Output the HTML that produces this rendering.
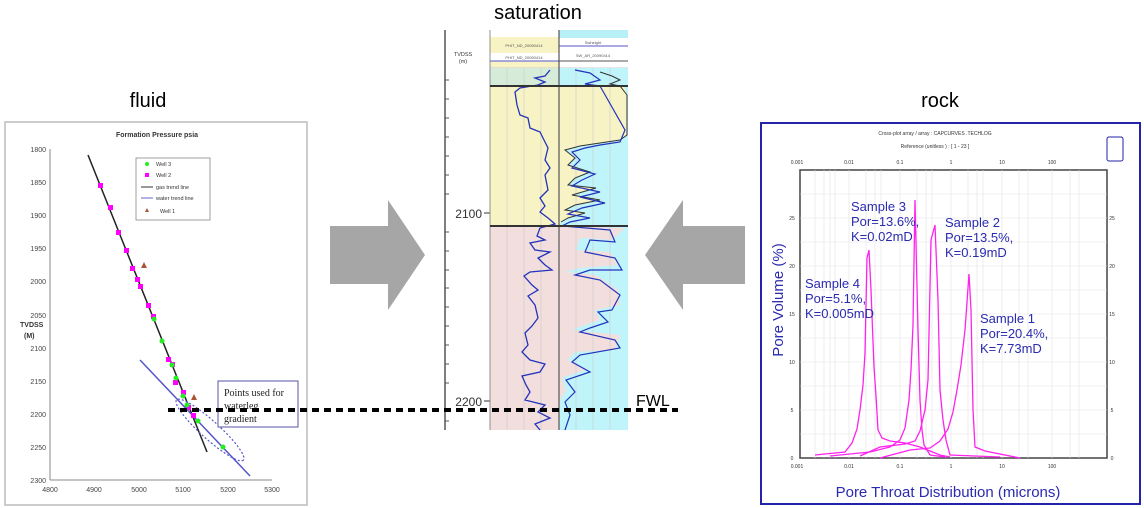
<!DOCTYPE html>
<html><head><meta charset="utf-8"><style>
html,body{margin:0;padding:0;background:#fff;}
svg{display:block;font-family:"Liberation Sans",sans-serif;}
</style></head><body>
<svg width="1144" height="508" viewBox="0 0 1144 508" xmlns="http://www.w3.org/2000/svg">
<!-- headings -->
<text x="148" y="107" font-size="20" text-anchor="middle">fluid</text>
<text x="538" y="19" font-size="20" text-anchor="middle">saturation</text>
<text x="940" y="107" font-size="20" text-anchor="middle">rock</text>

<!-- LEFT PANEL -->
<rect x="5" y="122" width="302" height="383" fill="#fff" stroke="#bbb" stroke-width="1.5"/>
<text x="157" y="137" font-size="7" font-weight="bold" text-anchor="middle" fill="#333">Formation Pressure psia</text>
<g stroke="#888" stroke-width="1" fill="none">
<line x1="50" y1="149" x2="50" y2="480"/><line x1="50" y1="480" x2="272" y2="480"/>
</g>
<g font-size="7" fill="#444" text-anchor="end">
<text x="46" y="152">1800</text><text x="46" y="185">1850</text><text x="46" y="218">1900</text><text x="46" y="251">1950</text><text x="46" y="284">2000</text><text x="46" y="318">2050</text><text x="46" y="351">2100</text><text x="46" y="384">2150</text><text x="46" y="417">2200</text><text x="46" y="450">2250</text><text x="46" y="483">2300</text>
</g>
<g font-size="7" fill="#444" text-anchor="middle">
<text x="50" y="492">4800</text><text x="94" y="492">4900</text><text x="139" y="492">5000</text><text x="183" y="492">5100</text><text x="228" y="492">5200</text><text x="272" y="492">5300</text>
</g>
<text x="20" y="327" font-size="7" font-weight="bold" fill="#333">TVDSS</text>
<text x="24" y="338" font-size="7" font-weight="bold" fill="#333">(M)</text>
<rect x="136" y="158" width="74" height="62" fill="#fff" stroke="#888" stroke-width="0.8"/>
<g font-size="5.5" fill="#333">
<circle cx="147" cy="164" r="2" fill="#2e2"/><text x="156" y="166">Well 3</text>
<rect x="145" y="173" width="4" height="4" fill="#f0f"/><text x="156" y="177">Well 2</text>
<line x1="141" y1="187" x2="153" y2="187" stroke="#333"/><text x="156" y="189">gas trend line</text>
<line x1="141" y1="198" x2="153" y2="198" stroke="#66c"/><text x="156" y="200">water trend line</text>
<path d="M145 212 L147 208 L149 212Z" fill="#a53"/><text x="160" y="213">Well 1</text>
</g>
<line x1="88" y1="155" x2="207" y2="452" stroke="#222" stroke-width="1.5"/>
<line x1="140" y1="360" x2="250" y2="476" stroke="#55c" stroke-width="1.5"/>
<ellipse cx="210" cy="430" rx="45" ry="9" transform="rotate(42 210 430)" fill="none" stroke="#55c" stroke-width="1.2" stroke-dasharray="2,2"/>
<g fill="#f0f">
<rect x="98" y="183" width="5" height="5"/><rect x="108" y="205" width="5" height="5"/><rect x="116" y="230" width="5" height="5"/><rect x="124" y="248" width="5" height="5"/><rect x="130" y="266" width="5" height="5"/><rect x="135" y="277" width="5" height="5"/><rect x="138" y="284" width="5" height="5"/><rect x="146" y="303" width="5" height="5"/><rect x="151" y="314" width="5" height="5"/><rect x="166" y="357" width="5" height="5"/><rect x="170" y="362" width="5" height="5"/><rect x="173" y="380" width="5" height="5"/><rect x="181" y="390" width="5" height="5"/><rect x="186" y="405" width="5" height="5"/><rect x="191" y="413" width="5" height="5"/>
</g>
<g fill="#2e2">
<circle cx="154" cy="319" r="2.5"/><circle cx="162" cy="341" r="2.5"/><circle cx="172" cy="365" r="2.5"/><circle cx="176" cy="378" r="2.5"/><circle cx="183" cy="396" r="2.5"/><circle cx="187" cy="405" r="2.5"/><circle cx="198" cy="421" r="2.5"/><circle cx="223" cy="447" r="2.5"/>
</g>
<g fill="#a53"><path d="M141 268 L144 262 L147 268Z"/><path d="M191 400 L194 394 L197 400Z"/></g>
<rect x="218" y="381" width="80" height="46" fill="#fff" stroke="#55a" stroke-width="1"/>
<g font-family="Liberation Serif,serif" font-size="10" fill="#222">
<text x="224" y="396">Points used for</text><text x="224" y="409">waterleg</text><text x="224" y="422">gradient</text>
</g>

<!-- ARROWS -->
<path d="M330 226 H388 V200 L425 255 L388 310 V284 H330Z" fill="#a6a6a6"/>
<path d="M745 226 H683 V200 L645 255 L683 310 V284 H745Z" fill="#a6a6a6"/>

<!-- MIDDLE LOG -->
<line x1="445" y1="30" x2="445" y2="430" stroke="#555" stroke-width="1.5"/>
<g stroke="#555" stroke-width="1">
<line x1="445" y1="80" x2="449" y2="80"/><line x1="445" y1="99" x2="449" y2="99"/><line x1="445" y1="118" x2="449" y2="118"/><line x1="445" y1="137" x2="449" y2="137"/><line x1="445" y1="156" x2="449" y2="156"/><line x1="445" y1="175" x2="449" y2="175"/><line x1="445" y1="194" x2="449" y2="194"/><line x1="445" y1="232" x2="449" y2="232"/><line x1="445" y1="251" x2="449" y2="251"/><line x1="445" y1="270" x2="449" y2="270"/><line x1="445" y1="288" x2="449" y2="288"/><line x1="445" y1="307" x2="449" y2="307"/><line x1="445" y1="326" x2="449" y2="326"/><line x1="445" y1="345" x2="449" y2="345"/><line x1="445" y1="364" x2="449" y2="364"/><line x1="445" y1="383" x2="449" y2="383"/><line x1="445" y1="421" x2="449" y2="421"/>
</g>
<text x="463" y="56" font-size="5.5" fill="#333" text-anchor="middle">TVDSS</text>
<text x="463" y="63" font-size="5.5" fill="#333" text-anchor="middle">(m)</text>
<text x="482" y="218" font-size="12" text-anchor="end" fill="#333">2100</text>
<line x1="484" y1="213" x2="490" y2="213" stroke="#333"/>
<text x="482" y="406" font-size="12" text-anchor="end" fill="#333">2200</text>
<line x1="484" y1="401" x2="490" y2="401" stroke="#333"/>
<!-- headers -->
<rect x="490" y="37" width="69" height="31" fill="#f8f3c4"/>
<rect x="490" y="53" width="69" height="8" fill="#fff"/>
<rect x="559" y="30" width="69" height="8" fill="#b8f0f8"/>
<g font-size="4" fill="#555" text-anchor="middle"><text x="524" y="47">PHIT_ND_20090414</text><text x="524" y="59">PHIT_ND_20090414</text><text x="593" y="44">Swheight</text><text x="593" y="57">SW_AR_20090414</text></g>
<line x1="490" y1="61" x2="559" y2="61" stroke="#55c"/><line x1="559" y1="46" x2="628" y2="46" stroke="#55c"/><line x1="559" y1="61" x2="628" y2="61" stroke="#555"/>
<line x1="490" y1="68" x2="628" y2="68" stroke="#ccc"/>
<!-- track 1 -->
<rect x="490" y="68" width="69" height="18" fill="#d6ecd8"/>
<rect x="490" y="86" width="69" height="140" fill="#f8f3c4"/>
<rect x="490" y="226" width="69" height="204" fill="#f3dede"/>
<!-- track 2 -->
<rect x="559" y="68" width="69" height="362" fill="#bff4fa"/>
<polygon points="559,86 624,86 627,95 627,135 620,140 600,143 580,146 565,150 575,158 568,165 590,172 575,178 568,185 596,188 572,195 600,200 575,205 565,210 585,213 568,218 561,222 559,226" fill="#f8f3c4"/>
<polygon points="559,226 625,228 612,240 580,238 576,250 610,252 618,265 580,268 565,272 596,275 618,290 620,305 595,310 600,320 585,325 572,330 620,335 615,350 575,352 568,360 585,370 562,378 566,390 560,400 559,430" fill="#f3dede"/>
<g stroke="#ccc" stroke-width="0.6">
<line x1="507" y1="68" x2="507" y2="430"/><line x1="524" y1="68" x2="524" y2="430"/><line x1="541" y1="68" x2="541" y2="430"/>
<line x1="576" y1="68" x2="576" y2="430"/><line x1="593" y1="68" x2="593" y2="430"/><line x1="610" y1="68" x2="610" y2="430"/>
</g>
<polyline fill="none" stroke="#2233bb" stroke-width="1.3" points="550,70 545,76 535,78 545,82 538,85 520,88 515,92 517,105 520,115 528,118 530,128 540,132 544,140 548,148 545,160 550,168 545,175 548,190 540,198 545,206 540,212 548,218 555,224 540,228 537,236 545,240 530,243 535,250 550,252 538,258 545,265 552,270 530,272 524,276 532,285 538,290 528,296 535,305 538,318 532,326 525,333 528,345 522,352 530,360 545,364 540,372 522,376 526,385 530,392 525,400 545,405 538,412 550,418 535,424 540,430"/>
<polyline fill="none" stroke="#333" stroke-width="1" points="600,72 612,76 620,80 610,84 620,86 627,95 627,135 620,140 600,143 580,146 565,150 575,158 568,165 590,172 575,178 568,185 596,188 572,195 600,200 575,205 565,210 585,213 568,218 561,222"/>
<polyline fill="none" stroke="#2233bb" stroke-width="1.2" points="575,70 590,73 600,80 585,84 600,86 625,130 620,142 600,145 585,148 572,152 580,160 572,168 595,174 582,180 572,186 600,192 580,197 605,203 582,208 568,214 590,218 570,222 562,226 610,230 615,242 590,240 585,252 615,258 622,270 590,270 575,275 600,280 620,295 612,310 598,312 608,322 590,328 580,332 615,340 620,348 580,355 572,362 590,372 566,380 575,392 565,402 570,415 565,430"/>
<line x1="559" y1="30" x2="559" y2="430" stroke="#555" stroke-width="1.2"/>
<line x1="490" y1="30" x2="490" y2="430" stroke="#777" stroke-width="0.8"/>
<line x1="490" y1="86" x2="628" y2="86" stroke="#333" stroke-width="2"/>
<line x1="490" y1="226" x2="628" y2="226" stroke="#333" stroke-width="2"/>

<!-- FWL -->
<line x1="168" y1="410" x2="678" y2="410" stroke="#000" stroke-width="4" stroke-dasharray="7,5"/>
<text x="636" y="406" font-size="16" fill="#000">FWL</text>

<!-- RIGHT PANEL -->
<rect x="761" y="123" width="379" height="381" fill="#fff" stroke="#2222aa" stroke-width="2"/>
<g font-size="5" fill="#333" text-anchor="middle"><text x="935" y="135">Cross-plot array   /  array : CAPCURVES .TECHLOG</text><text x="935" y="148">Reference   (unitless  ) : [ 1 - 23 ]</text></g>
<rect x="1107" y="137" width="16" height="24" fill="#fff" stroke="#2222aa" rx="2"/>
<rect x="800" y="170" width="307" height="288" fill="#fff" stroke="#444" stroke-width="1.5"/>
<g stroke="#e3e3e3" stroke-width="0.6">
<line x1="815" y1="170" x2="815" y2="458"/><line x1="824" y1="170" x2="824" y2="458"/><line x1="830" y1="170" x2="830" y2="458"/><line x1="835" y1="170" x2="835" y2="458"/><line x1="849" y1="170" x2="849" y2="458"/><line x1="866" y1="170" x2="866" y2="458"/><line x1="875" y1="170" x2="875" y2="458"/><line x1="881" y1="170" x2="881" y2="458"/><line x1="900" y1="170" x2="900" y2="458"/><line x1="917" y1="170" x2="917" y2="458"/><line x1="926" y1="170" x2="926" y2="458"/><line x1="932" y1="170" x2="932" y2="458"/><line x1="951" y1="170" x2="951" y2="458"/><line x1="968" y1="170" x2="968" y2="458"/><line x1="977" y1="170" x2="977" y2="458"/><line x1="983" y1="170" x2="983" y2="458"/><line x1="1002" y1="170" x2="1002" y2="458"/><line x1="1019" y1="170" x2="1019" y2="458"/><line x1="1028" y1="170" x2="1028" y2="458"/><line x1="1052" y1="170" x2="1052" y2="458"/><line x1="1070" y1="170" x2="1070" y2="458"/><line x1="1079" y1="170" x2="1079" y2="458"/>
<line x1="800" y1="410" x2="1107" y2="410"/><line x1="800" y1="362" x2="1107" y2="362"/><line x1="800" y1="314" x2="1107" y2="314"/><line x1="800" y1="266" x2="1107" y2="266"/><line x1="800" y1="218" x2="1107" y2="218"/><line x1="800" y1="434" x2="1107" y2="434"/><line x1="800" y1="386" x2="1107" y2="386"/><line x1="800" y1="338" x2="1107" y2="338"/><line x1="800" y1="290" x2="1107" y2="290"/><line x1="800" y1="242" x2="1107" y2="242"/><line x1="800" y1="194" x2="1107" y2="194"/>
</g>
<g font-size="5" fill="#333" text-anchor="middle">
<text x="797" y="164">0.001</text><text x="849" y="164">0.01</text><text x="900" y="164">0.1</text><text x="951" y="164">1</text><text x="1002" y="164">10</text><text x="1052" y="164">100</text>
<text x="797" y="468">0.001</text><text x="849" y="468">0.01</text><text x="900" y="468">0.1</text><text x="951" y="468">1</text><text x="1002" y="468">10</text><text x="1052" y="468">100</text>
<text x="792" y="460">0</text><text x="792" y="412">5</text><text x="792" y="364">10</text><text x="792" y="316">15</text><text x="792" y="268">20</text><text x="792" y="220">25</text>
<text x="1112" y="460">0</text><text x="1112" y="412">5</text><text x="1112" y="364">10</text><text x="1112" y="316">15</text><text x="1112" y="268">20</text><text x="1112" y="220">25</text>
</g>
<g fill="none" stroke="#ff22ee" stroke-width="1.3">
<polyline points="815,455 845,452 852,443 857,429 860,410 863,385 865,353 867,258 869,250 871,290 874,367 876,396 878,430 882,438 890,441 905,443 920,447 940,455 950,457"/>
<polyline points="830,456 870,452 890,447 900,440 905,428 909,400 911,370 913,325 915,200 918,330 920,400 922,430 924,445 930,455 945,457"/>
<polyline points="860,456 880,447 905,444 915,441 920,431 925,410 928,380 931,240 935,225 938,300 940,390 943,420 946,440 950,455 1000,457"/>
<polyline points="880,458 910,450 930,448 940,441 948,429 953,412 957,390 961,365 965,330 969,274 971,310 973,410 975,447 985,451 1020,458"/>
</g>
<g fill="#2a2ab0" font-size="13">
<text x="851" y="211">Sample 3</text><text x="851" y="226">Por=13.6%,</text><text x="851" y="241">K=0.02mD</text>
<text x="945" y="227">Sample 2</text><text x="945" y="242">Por=13.5%,</text><text x="945" y="257">K=0.19mD</text>
<text x="805" y="288">Sample 4</text><text x="805" y="303">Por=5.1%,</text><text x="805" y="318">K=0.005mD</text>
<text x="980" y="323">Sample 1</text><text x="980" y="338">Por=20.4%,</text><text x="980" y="353">K=7.73mD</text>
</g>
<text transform="translate(783 300) rotate(-90)" font-size="15" fill="#2a2ab0" text-anchor="middle">Pore Volume (%)</text>
<text x="948" y="497" font-size="15" fill="#2a2ab0" text-anchor="middle">Pore Throat Distribution (microns)</text>
</svg>
</body></html>
